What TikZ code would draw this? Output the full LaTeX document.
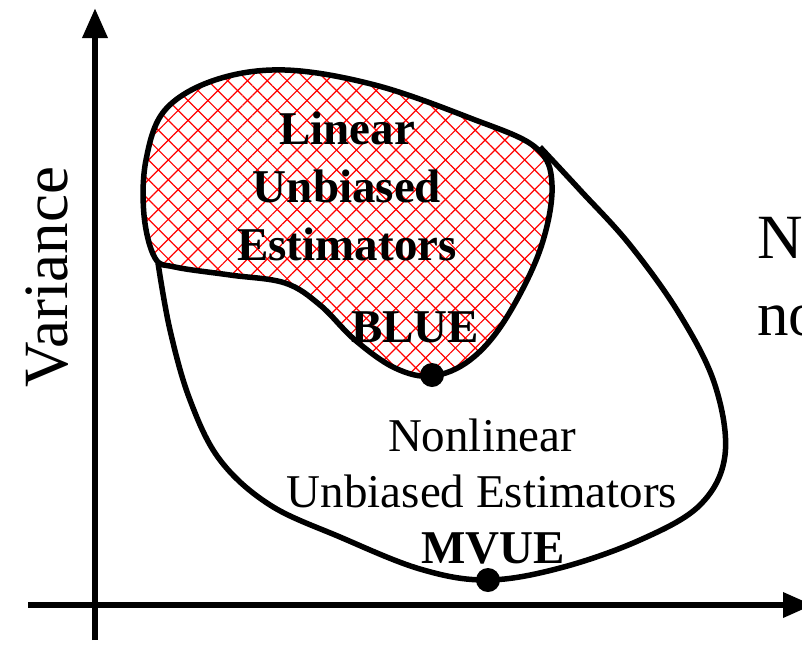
\documentclass[tikz,border=0pt]{standalone}
\usepackage{fontspec}
\setmainfont{Liberation Serif}
\usetikzlibrary{arrows.meta,patterns.meta}
\tikzset{
  axis/.style={line width=6.5pt, -{Triangle[length=30pt,width=24pt]}},
  region/.style={line width=5.5pt, draw=black},
  hatchA/.style={pattern={Lines[angle=45,distance=14pt,line width=1.2pt]}, pattern color=red},
  hatchB/.style={pattern={Lines[angle=-45,distance=14pt,line width=1.2pt]}, pattern color=red},
  boldlbl/.style={font=\fontsize{47pt}{58pt}\selectfont\bfseries, align=center, inner sep=0pt},
  lbl/.style={font=\fontsize{47pt}{56pt}\selectfont, align=center, inner sep=0pt},
  biglbl/.style={font=\fontsize{63pt}{76pt}\selectfont, inner sep=0pt},
  dot/.style={fill=black},
}
\begin{document}
\begin{tikzpicture}[x=1pt, y=-1pt]
  \useasboundingbox (0,0) rectangle (802,645);
  % axes
  \coordinate (yfoot) at (95,640);
  \coordinate (ytip) at (95,8);
  \coordinate (xfoot) at (28,605);
  \coordinate (xtip) at (813,605);
  \draw[axis] (yfoot) -- (ytip);
  \draw[axis] (xfoot) -- (xtip);
  % linear unbiased estimators
  \def\linpath{plot[smooth cycle, tension=0.6] coordinates {
    (155,258) (144,215) (146,160) (165,110) (215,80) (285,70) (375,85)
    (470,118) (535,147) (552,185) (540,250) (505,320) (470,360) (432,376)
    (395,368) (355,340) (320,305) (285,283) (230,275) (175,267)}}
  \fill[hatchA] \linpath;
  \fill[hatchB] \linpath;
  \draw[region] \linpath;
  % nonlinear unbiased estimators
  \draw[region] plot[smooth, tension=0.6] coordinates {
    (158,263) (170,330) (190,400) (220,460) (270,505) (340,537) (420,569)
    (487,580) (560,568) (640,540) (700,505) (725,455) (715,385) (680,315)
    (630,245) (580,190) (540,147)};
  \coordinate (blue) at (432,375);
  \coordinate (mvue) at (488,580);
  \fill[dot] (blue) circle[radius=12pt];
  \fill[dot] (mvue) circle[radius=12pt];
  \node[boldlbl, anchor=base] (lin) at (347,260) {Linear\\Unbiased\\Estimators};
  \node[boldlbl, anchor=base] (bluelbl) at (415,342) {BLUE};
  \node[lbl, anchor=base] (nonlin) at (482,507) {Nonlinear\\Unbiased Estimators};
  \node[boldlbl, anchor=base] (mvuelbl) at (493,563) {MVUE};
  \node[biglbl, rotate=90] (var) at (47,277) {Variance};
  \node[biglbl, anchor=base west] (nl1) at (757,258) {N};
  \node[biglbl, anchor=base west] (nl2) at (757,335) {no};
\end{tikzpicture}
\end{document}
